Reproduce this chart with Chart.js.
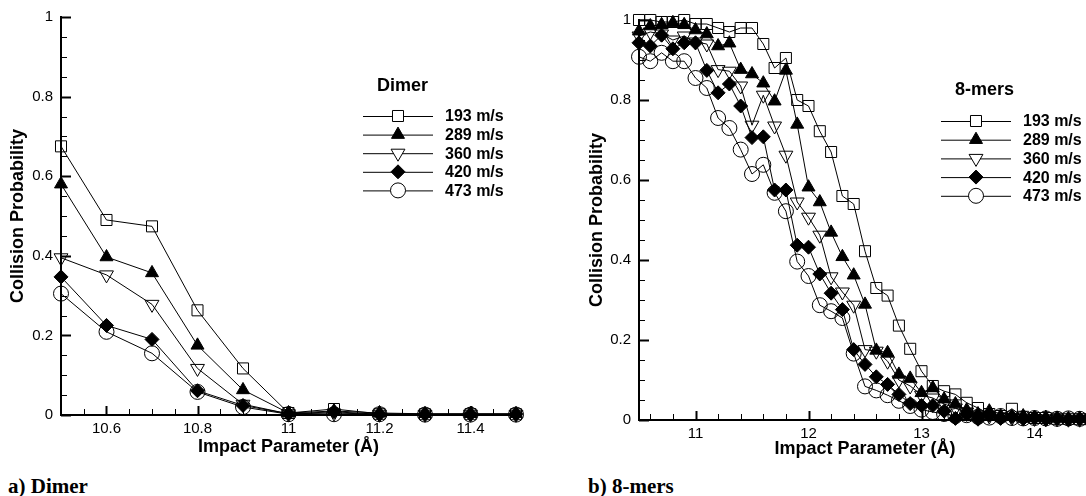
<!DOCTYPE html>
<html>
<head>
<meta charset="utf-8">
<script src="https://cdn.jsdelivr.net/npm/chart.js@4.4.0/dist/chart.umd.min.js"></script>
<style>
  html, body { margin: 0; padding: 0; background: #fff; overflow: hidden; }
  #wrap { position: relative; width: 1086px; height: 496px; overflow: hidden; }
  canvas { position: absolute; top: 0; }
  #dimer { left: 0; }
  #mers { left: 560px; }
  .cap { position: absolute; top: 474px; font-family: "Liberation Serif", "Times New Roman", serif; font-weight: bold; font-size: 21px; line-height: 24px; white-space: nowrap; }
</style>
</head>
<body>
<div id="wrap">
  <canvas id="dimer" width="540" height="470"></canvas>
  <canvas id="mers" width="540" height="470"></canvas>
  <div class="cap" style="left:8px">a) Dimer</div>
  <div class="cap" style="left:588px">b) 8-mers</div>
</div>
<script>
// ---- data ----
const speeds = ['193 m/s', '289 m/s', '360 m/s', '420 m/s', '473 m/s'];

// dimer: impact parameter (Å)
const dimerB = [10.5, 10.6, 10.7, 10.8, 10.9, 11.0, 11.1, 11.2, 11.3, 11.4, 11.5];
const dimer193 = [0.675, 0.49, 0.474, 0.263, 0.117, 0.005, 0.015, 0.003, 0.002, 0.002, 0.002];
const dimer289 = [0.58, 0.397, 0.357, 0.175, 0.063, 0.005, 0.01, 0.005, 0.003, 0.003, 0.003];
const dimer360 = [0.395, 0.352, 0.278, 0.117, 0.027, 0.003, 0.005, 0.002, 0.002, 0.002, 0.002];
const dimer420 = [0.347, 0.225, 0.19, 0.061, 0.024, 0.003, 0.008, 0.002, 0.002, 0.002, 0.002];
const dimer473 = [0.305, 0.209, 0.155, 0.058, 0.02, 0.002, 0.002, 0.002, 0.001, 0.001, 0.001];

// 8-mers
const merB = [10.5, 10.6, 10.7, 10.8, 10.9, 11.0, 11.1, 11.2, 11.3, 11.4,
              11.5, 11.6, 11.7, 11.8, 11.9, 12.0, 12.1, 12.2, 12.3, 12.4,
              12.5, 12.6, 12.7, 12.8, 12.9, 13.0, 13.1, 13.2, 13.3, 13.4,
              13.5, 13.6, 13.7, 13.8, 13.9, 14.0, 14.1, 14.2, 14.3, 14.4, 14.5];
const mer193 = [1.0, 1.0, 0.995, 0.995, 1.0, 0.99, 0.99, 0.98, 0.97, 0.98,
                0.98, 0.94, 0.88, 0.905, 0.8, 0.785, 0.722, 0.67, 0.56, 0.54,
                0.422, 0.33, 0.311, 0.236, 0.178, 0.122, 0.085, 0.072, 0.064, 0.043,
                0.03, 0.015, 0.01, 0.028, 0.008, 0.005, 0.005, 0.003, 0.003, 0.002, 0.002];
const mer289 = [0.972, 0.985, 0.988, 0.993, 0.988, 0.975, 0.965, 0.935, 0.942, 0.876,
                0.865, 0.842, 0.797, 0.874, 0.739, 0.582, 0.545, 0.469, 0.408, 0.362,
                0.289, 0.174, 0.168, 0.114, 0.104, 0.068, 0.08, 0.052, 0.04, 0.025,
                0.015, 0.022, 0.01, 0.008, 0.01, 0.005, 0.006, 0.004, 0.003, 0.003, 0.002];
const mer360 = [0.96, 0.97, 0.965, 0.95, 0.96, 0.945, 0.94, 0.876, 0.872, 0.835,
                0.737, 0.812, 0.735, 0.662, 0.545, 0.507, 0.462, 0.358, 0.32, 0.287,
                0.176, 0.172, 0.147, 0.1, 0.085, 0.062, 0.055, 0.04, 0.03, 0.02,
                0.012, 0.01, 0.008, 0.006, 0.005, 0.004, 0.003, 0.003, 0.002, 0.002, 0.002];
const mer420 = [0.943, 0.935, 0.962, 0.928, 0.943, 0.943, 0.874, 0.818, 0.84, 0.785,
                0.706, 0.708, 0.575, 0.575, 0.437, 0.432, 0.365, 0.317, 0.276, 0.176,
                0.139, 0.108, 0.089, 0.064, 0.041, 0.036, 0.036, 0.022, 0.004, 0.014,
                0.002, 0.012, 0.004, 0.008, 0.003, 0.006, 0.002, 0.004, 0.002, 0.003, 0.002];
const mer473 = [0.908, 0.897, 0.918, 0.897, 0.897, 0.855, 0.83, 0.755, 0.73, 0.676,
                0.615, 0.638, 0.568, 0.522, 0.396, 0.36, 0.287, 0.272, 0.255, 0.166,
                0.084, 0.074, 0.062, 0.048, 0.035, 0.026, 0.02, 0.015, 0.01, 0.012,
                0.008, 0.006, 0.01, 0.005, 0.004, 0.005, 0.004, 0.003, 0.004, 0.003, 0.003];

// tick labels
const yTicks = [0, 0.2, 0.4, 0.6, 0.8, 1];
const dimerXTicks = [10.6, 10.8, 11, 11.2, 11.4];
const merXTicks = [11, 12, 13, 14];

// ---- styles ----
const FONT = '"Liberation Sans", Arial, Helvetica, sans-serif';
const markers = [
  { pointStyle: 'rect', rotation: 0, radius: 7.8, fill: false },
  { pointStyle: 'triangle', rotation: 0, radius: 7.5, fill: true },
  { pointStyle: 'triangle', rotation: 180, radius: 8, fill: false },
  { pointStyle: 'rectRot', rotation: 0, radius: 7, fill: true },
  { pointStyle: 'circle', rotation: 0, radius: 7.5, fill: false }
];

function makeSets(xs, series) {
  return series.map((vals, i) => ({
    label: speeds[i],
    data: vals.map((v, k) => ({ x: xs[k], y: v })),
    borderColor: '#000',
    borderWidth: 1,
    pointStyle: markers[i].pointStyle,
    pointRotation: markers[i].rotation,
    pointRadius: markers[i].radius,
    pointHoverRadius: markers[i].radius,
    pointBorderWidth: 1,
    pointBorderColor: '#000',
    pointBackgroundColor: markers[i].fill ? '#000' : 'rgba(0,0,0,0)',
    legendFill: markers[i].fill ? '#000' : '#fff',
    tension: 0,
    clip: false
  }));
}

function range(from, to, step) {
  const out = [];
  const n = Math.round((to - from) / step);
  for (let k = 0; k <= n; k++) out.push(+(from + k * step).toFixed(4));
  return out;
}

// ticks drawn inward from the axes
const innerTicks = {
  id: 'innerTicks',
  beforeDatasetsDraw(chart, args, o) {
    const { ctx, chartArea: a, scales: { x, y } } = chart;
    ctx.save();
    ctx.strokeStyle = '#000';
    const tick = (vals, len, w) => {
      ctx.lineWidth = w;
      vals.forEach(v => {
        const px = Math.round(x.getPixelForValue(v)) + 0.5;
        if (px < a.left || px > a.right + 1) return;
        ctx.beginPath(); ctx.moveTo(px, a.bottom); ctx.lineTo(px, a.bottom - len); ctx.stroke();
      });
    };
    const tickY = (vals, len, w) => {
      ctx.lineWidth = w;
      vals.forEach(v => {
        const py = Math.round(y.getPixelForValue(v)) + 0.5;
        ctx.beginPath(); ctx.moveTo(a.left, py); ctx.lineTo(a.left + len, py); ctx.stroke();
      });
    };
    tick(o.xMinor, 6, 1);
    tick(o.xMajor, 9, 2);
    tickY(o.yMinor, 6, 1);
    tickY(o.yMajor, 10, 2);
    ctx.restore();
  }
};

// legend box with title, line + marker + label
const sideLegend = {
  id: 'sideLegend',
  afterDraw(chart, args, o) {
    const ctx = chart.ctx;
    ctx.save();
    ctx.fillStyle = '#000';
    ctx.textBaseline = 'middle';
    ctx.textAlign = 'left';
    ctx.font = 'bold 18px ' + FONT;
    ctx.fillText(o.title, o.titleX, o.titleY);
    ctx.font = 'bold 16px ' + FONT;
    chart.data.datasets.forEach((ds, i) => {
      const yy = o.rowY + i * o.rowGap;
      ctx.strokeStyle = '#000';
      ctx.lineWidth = 1;
      ctx.beginPath(); ctx.moveTo(o.lineX1, yy + 0.5); ctx.lineTo(o.lineX2, yy + 0.5); ctx.stroke();
      ctx.fillStyle = ds.legendFill;
      Chart.helpers.drawPoint(ctx, {
        pointStyle: ds.pointStyle, rotation: ds.pointRotation,
        radius: ds.pointRadius, borderWidth: 1
      }, o.markX, yy);
      ctx.fillStyle = '#000';
      ctx.fillText(ds.label, o.textX, yy + 1);
    });
    ctx.restore();
  }
};

function axes(xMin, xMax, xTicks, yW, xH, yTitlePad, xTitlePad) {
  const fmt = v => String(+v.toFixed(2));
  return {
    x: {
      type: 'linear', min: xMin, max: xMax,
      afterBuildTicks: s => { s.ticks = xTicks.map(v => ({ value: v })); },
      afterFit: s => { s.height = xH; },
      ticks: { color: '#000', font: { family: FONT, size: 15 }, padding: 5, callback: fmt, maxRotation: 0 },
      grid: { drawOnChartArea: false, drawTicks: false },
      border: { display: true, color: '#000', width: 2 },
      title: { display: true, text: 'Impact Parameter (Å)', color: '#000',
               font: { family: FONT, size: 18, weight: 'bold' }, padding: { top: 0, bottom: xTitlePad } }
    },
    y: {
      type: 'linear', min: 0, max: 1,
      afterBuildTicks: s => { s.ticks = yTicks.map(v => ({ value: v })); },
      afterFit: s => { s.width = yW; },
      ticks: { color: '#000', font: { family: FONT, size: 15 }, padding: 8, callback: fmt },
      grid: { drawOnChartArea: false, drawTicks: false },
      border: { display: true, color: '#000', width: 2 },
      title: { display: true, text: 'Collision Probability', color: '#000',
               font: { family: FONT, size: 18, weight: 'bold' }, padding: { top: yTitlePad, bottom: 0 } }
    }
  };
}

new Chart(document.getElementById('dimer'), {
  type: 'line',
  data: { datasets: makeSets(dimerB, [dimer193, dimer289, dimer360, dimer420, dimer473]) },
  options: {
    responsive: false,
    animation: false,
    events: [],
    layout: { padding: { top: 16, right: 24, bottom: 0, left: 0 } },
    scales: axes(10.5, 11.5, dimerXTicks, 61, 55, 7, 12),
    plugins: {
      legend: { display: false },
      tooltip: { enabled: false },
      innerTicks: { xMinor: range(10.5, 11.5, 0.05), xMajor: dimerXTicks,
                    yMinor: range(0, 1, 0.05), yMajor: yTicks },
      sideLegend: { title: 'Dimer', titleX: 377, titleY: 86, lineX1: 363, lineX2: 433,
                    markX: 398, textX: 445, rowY: 116, rowGap: 18.6 }
    }
  },
  plugins: [innerTicks, sideLegend]
});

new Chart(document.getElementById('mers'), {
  type: 'line',
  data: { datasets: makeSets(merB, [mer193, mer289, mer360, mer420, mer473]) },
  options: {
    responsive: false,
    animation: false,
    events: [],
    layout: { padding: { top: 20, right: 8, bottom: 0, left: 0 } },
    scales: axes(10.5, 14.5, merXTicks, 79, 50, 26, 10),
    plugins: {
      legend: { display: false },
      tooltip: { enabled: false },
      innerTicks: { xMinor: range(10.6, 14.4, 0.2), xMajor: merXTicks,
                    yMinor: range(0, 1, 0.05), yMajor: yTicks },
      sideLegend: { title: '8-mers', titleX: 395, titleY: 90, lineX1: 381, lineX2: 451,
                    markX: 416, textX: 463, rowY: 121, rowGap: 18.7 }
    }
  },
  plugins: [innerTicks, sideLegend]
});
</script>
</body>
</html>
